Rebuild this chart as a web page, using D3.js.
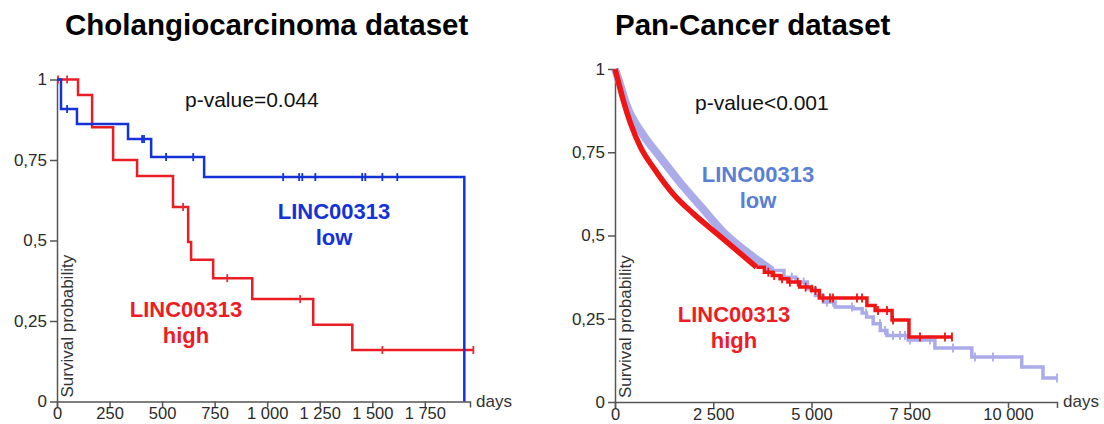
<!DOCTYPE html>
<meta charset="utf-8">
<head>
<style>
body { margin: 0; background: #fff; }
svg { font-family: "Liberation Sans", Arial, sans-serif; }
.axis path, .axis line { stroke: #555; stroke-width: 1.5; }
.axis text { font-size: 17px; fill: #2a2a2a; }
.xaxis text { font-size: 16.5px; }
.title { font-size: 29.5px; font-weight: bold; fill: #000; }
.pval { font-size: 21px; fill: #111; }
.group { font-size: 22px; font-weight: bold; text-anchor: middle; }
.ylab { font-size: 17px; fill: #333; }
.days { font-size: 17px; fill: #333; }
.km { fill: none; }
</style>
</head>
<body>
<svg width="1104" height="424"></svg>
<script src="https://cdn.jsdelivr.net/npm/d3@7"></script>
<script>

// Cholangiocarcinoma dataset (days, survival probability)
var cholLowTimes  = [0, 19, 95, 338, 448, 700, 1938];
var cholLowSurv   = [1, 0.908, 0.862, 0.815, 0.759, 0.697, 0];
var cholLowCensor = [48, 405, 414, 519, 648, 1076, 1152, 1167, 1229, 1452, 1467, 1548, 1619];

var cholHighTimes  = [0, 100, 167, 267, 381, 552, 624, 638, 743, 929, 1219, 1405, 1981];
var cholHighSurv   = [1, 0.952, 0.852, 0.75, 0.70, 0.604, 0.495, 0.44, 0.383, 0.318, 0.238, 0.16, 0.16];
var cholHighCensor = [5, 48, 600, 810, 1157, 1548, 1981];

// Pan-Cancer dataset: dense early part read as a smooth curve, sparse tail as steps
var pcLowSmoothTimes = [0, 100, 300, 700, 1150, 1650, 2200, 2800, 3300, 4000];
var pcLowSmoothSurv  = [1, 0.965, 0.89, 0.805, 0.735, 0.66, 0.585, 0.505, 0.455, 0.395];
var pcLowStepTimes = [4000, 4300, 4600, 4900, 5100, 5300, 5600, 6060, 6290, 6400, 6570, 6750, 6920, 7460, 8140, 9080, 10350, 10890, 11250];
var pcLowStepSurv  = [0.395, 0.375, 0.36, 0.34, 0.32, 0.30, 0.285, 0.28, 0.267, 0.255, 0.235, 0.215, 0.20, 0.186, 0.162, 0.135, 0.105, 0.072, 0.072];
var pcLowCensor = [4500, 4800, 5000, 5394, 5547, 6031, 6387, 6743, 6870, 7074, 7252, 7379, 7506, 8015, 8600, 9160, 9618, 11247];

var pcHighSmoothTimes = [0, 100, 200, 400, 650, 1000, 1500, 2000, 2600, 3000, 3600];
var pcHighSmoothSurv  = [1, 0.955, 0.91, 0.835, 0.765, 0.70, 0.622, 0.565, 0.505, 0.465, 0.405];
var pcHighStepTimes = [3600, 3800, 4000, 4200, 4400, 4700, 5000, 5200, 6410, 6620, 7050, 7480, 8575];
var pcHighStepSurv  = [0.405, 0.39, 0.38, 0.37, 0.36, 0.345, 0.335, 0.312, 0.29, 0.275, 0.246, 0.195, 0.195];
var pcHighCensor = [3900, 4050, 4250, 4450, 4650, 4850, 5100, 5293, 5471, 5547, 6158, 6285, 6692, 6921, 7074, 7761, 8397, 8575];

var yTicks = [0, 0.25, 0.5, 0.75, 1];
var cholXTicks = [0, 250, 500, 750, 1000, 1250, 1500, 1750];
var pcXTicks = [0, 2500, 5000, 7500, 10000];

var locale = d3.formatLocale({decimal: ",", thousands: "\u00a0", grouping: [3], currency: ["", ""]});
var fmtX = locale.format(",d");
var fmtY = function(d) { return d === 0 || d === 1 ? String(d) : locale.format("")(d); };

var svg = d3.select("svg");

function pairs(t, s) { return t.map(function(d, i) { return [d, s[i]]; }); }

function stepValue(t, s, x) {
  var i = d3.bisectRight(t, x) - 1;
  return s[Math.max(0, i)];
}

function panel(opt) {
  var x = d3.scaleLinear().domain([0, opt.xMax]).range(opt.xRange);
  var y = d3.scaleLinear().domain([0, 1]).range(opt.yRange);
  var g = svg.append("g");

  g.append("g")
      .attr("class", "axis xaxis")
      .attr("transform", "translate(0," + opt.yRange[0] + ")")
      .call(d3.axisBottom(x).tickValues(opt.xTicks).tickFormat(fmtX).tickSize(6).tickSizeOuter(6).tickPadding(0))
      .call(function(a) { a.select(".domain").attr("fill", "none"); });

  g.append("g")
      .attr("class", "axis")
      .attr("transform", "translate(" + opt.xRange[0] + ",0)")
      .call(d3.axisLeft(y).tickValues(yTicks).tickFormat(fmtY).tickSize(7).tickSizeOuter(0).tickPadding(3))
      .call(function(a) { a.select(".domain").attr("fill", "none"); });

  g.append("text")
      .attr("class", "ylab")
      .attr("transform", "translate(" + (opt.xRange[0] + 16) + "," + (opt.yRange[0] - 4) + ") rotate(-90)")
      .text("Survival probability");

  g.append("text")
      .attr("class", "days")
      .attr("x", opt.xRange[1] + 6)
      .attr("y", opt.yRange[0] + 5)
      .text("days");

  g.append("text")
      .attr("class", "title")
      .attr("x", opt.titleX)
      .attr("y", 35)
      .text(opt.title);

  g.append("text")
      .attr("class", "pval")
      .attr("x", opt.pX)
      .attr("y", opt.pY)
      .text(opt.pText);

  var smooth = d3.line().x(function(d) { return x(d[0]); }).y(function(d) { return y(d[1]); }).curve(d3.curveMonotoneX);
  var step = d3.line().x(function(d) { return x(d[0]); }).y(function(d) { return y(d[1]); }).curve(d3.curveStepAfter);

  opt.series.forEach(function(s) {
    if (s.smoothT) {
      g.append("path")
          .attr("class", "km")
          .attr("stroke", s.color)
          .attr("stroke-width", s.smoothWidth)
          .attr("d", smooth(pairs(s.smoothT, s.smoothS)));
    }
    g.append("path")
        .attr("class", "km")
        .attr("stroke", s.color)
        .attr("stroke-width", s.width)
        .attr("d", step(pairs(s.t, s.s)));

    g.selectAll(null)
      .data(s.censor)
      .enter().append("line")
        .attr("stroke", s.tickColor || s.color)
        .attr("stroke-width", 1.8)
        .attr("x1", function(d) { return x(d); })
        .attr("x2", function(d) { return x(d); })
        .attr("y1", function(d) { return y(stepValue(s.t, s.s, d)) - opt.tickH; })
        .attr("y2", function(d) { return y(stepValue(s.t, s.s, d)) + opt.tickH; });
  });

  opt.labels.forEach(function(l) {
    var t = g.append("text")
        .attr("class", "group")
        .attr("fill", l.color)
        .attr("x", l.x)
        .attr("y", l.y);
    t.append("tspan").attr("x", l.x).text("LINC00313");
    t.append("tspan").attr("x", l.x).attr("dy", 26).text(l.level);
  });
}

panel({
  title: "Cholangiocarcinoma dataset",
  titleX: 65,
  xMax: 1965,
  xRange: [57, 470],
  yRange: [401.5, 79.5],
  xTicks: cholXTicks,
  pText: "p-value=0.044",
  pX: 185, pY: 107,
  tickH: 4,
  series: [
    {t: cholHighTimes, s: cholHighSurv, censor: cholHighCensor, color: "#ea1d24", tickColor: "#d6343b", width: 2.5},
    {t: cholLowTimes, s: cholLowSurv, censor: cholLowCensor, color: "#1432d8", width: 2.5}
  ],
  labels: [
    {x: 334, y: 219, color: "#1432d8", level: "low"},
    {x: 186, y: 317, color: "#ee1c24", level: "high"}
  ]
});

panel({
  title: "Pan-Cancer dataset",
  titleX: 615,
  xMax: 11247,
  xRange: [615, 1057],
  yRange: [402, 69],
  xTicks: pcXTicks,
  pText: "p-value<0.001",
  pX: 695, pY: 110,
  tickH: 4.5,
  series: [
    {smoothT: pcLowSmoothTimes, smoothS: pcLowSmoothSurv, smoothWidth: 8,
     t: pcLowStepTimes, s: pcLowStepSurv, censor: pcLowCensor, color: "#ababea", width: 3.5},
    {smoothT: pcHighSmoothTimes, smoothS: pcHighSmoothSurv, smoothWidth: 5.5,
     t: pcHighStepTimes, s: pcHighStepSurv, censor: pcHighCensor, color: "#ee1515", width: 3.5}
  ],
  labels: [
    {x: 758, y: 182, color: "#5a7fd4", level: "low"},
    {x: 734, y: 322, color: "#ee1c24", level: "high"}
  ]
});

</script>
</body>
</html>
